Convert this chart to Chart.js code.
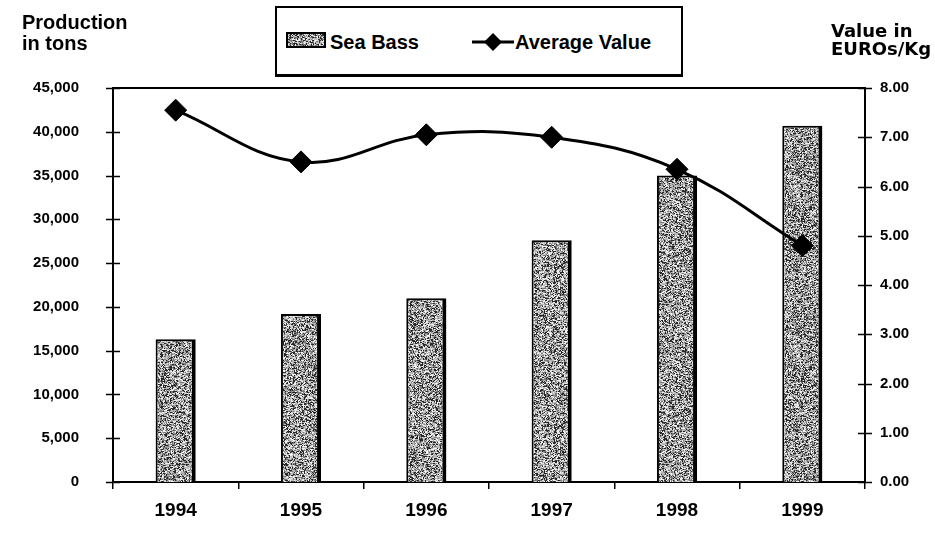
<!DOCTYPE html>
<html><head><meta charset="utf-8">
<script src="https://cdn.jsdelivr.net/npm/chart.js@4"></script>
<style>
html,body{margin:0;padding:0;background:#fff;}
#wrap{position:relative;width:935px;height:533px;overflow:hidden;}
#c{position:absolute;left:0;top:0;}
.t{position:absolute;font-weight:bold;color:#000;white-space:nowrap;}
#lt{left:22px;top:12px;font:bold 20px "Liberation Sans",Arial,sans-serif;line-height:21px;}
#rt{left:831px;top:22px;font:bold 18px "DejaVu Sans",Verdana,sans-serif;line-height:18px;}
#legend{position:absolute;left:275px;top:6px;width:408px;height:71px;border:2px solid #000;border-bottom-width:3px;border-right-width:2px;box-sizing:border-box;background:#fff;}
#legend .lbl{position:absolute;top:22px;font:bold 20px "Liberation Sans",Arial,sans-serif;line-height:24px;}
#sw{position:absolute;left:9px;top:24px;}
#ln{position:absolute;left:195px;top:23px;}
</style></head>
<body>
<div id="wrap">
<canvas id="c" width="935" height="533"></canvas>
<div id="lt" class="t">Production<br>in tons</div>
<div id="rt" class="t">Value in<br>EUROs/Kg</div>
<div id="legend">
  <canvas id="sw" width="40" height="16"></canvas>
  <div class="lbl" style="left:53px">Sea Bass</div>
  <canvas id="ln" width="42" height="22"></canvas>
  <div class="lbl" style="left:238px">Average Value</div>
</div>
</div>
<script>
// ---- data ----
const categories = ['1994', '1995', '1996', '1997', '1998', '1999'];
const seaBassTons = [16300, 19200, 21000, 27600, 35000, 40700];
const avgValueEuroKg = [7.55, 6.50, 7.05, 7.00, 6.35, 4.80];
const productionTicks = [0, 5000, 10000, 15000, 20000, 25000, 30000, 35000, 40000, 45000];
const valueTicks = [0, 1, 2, 3, 4, 5, 6, 7, 8];
const seriesNames = ['Sea Bass', 'Average Value'];

// ---- stipple texture (deterministic) ----
function makeTexture(size) {
  const c = document.createElement('canvas'); c.width = c.height = size;
  const g = c.getContext('2d');
  let s = 987654321;
  const next = () => { s = (Math.imul(s, 1103515245) + 12345) & 0x7fffffff; return s / 0x7fffffff; };
  g.fillStyle = '#b4b4b4'; g.fillRect(0, 0, size, size);
  for (let y = 0; y < size; y++) {
    for (let x = 0; x < size; x++) {
      const r = next();
      let v = null;
      if (r < 0.22) v = 40; else if (r < 0.42) v = 120; else if (r < 0.6) v = 240; else if (r < 0.7) v = 200;
      if (v !== null) {
        const w = next() < 0.4 ? 2 : 1;
        g.fillStyle = 'rgb(' + v + ',' + v + ',' + v + ')';
        g.fillRect(x, y, w, 1);
      }
    }
  }
  return c;
}
const tex = makeTexture(160);
const ctxMain = document.getElementById('c').getContext('2d');
const barPattern = ctxMain.createPattern(tex, 'repeat');

// legend swatches
(function () {
  const sw = document.getElementById('sw').getContext('2d');
  sw.fillStyle = sw.createPattern(tex, 'repeat'); sw.fillRect(0, 0, 40, 16);
  sw.strokeStyle = '#000'; sw.lineWidth = 2; sw.strokeRect(1, 1, 38, 14);
  const ln = document.getElementById('ln').getContext('2d');
  ln.strokeStyle = '#000'; ln.lineWidth = 3;
  ln.beginPath(); ln.moveTo(0, 11); ln.lineTo(42, 11); ln.stroke();
  ln.fillStyle = '#000'; ln.beginPath();
  ln.moveTo(21, 2); ln.lineTo(30, 11); ln.lineTo(21, 20); ln.lineTo(12, 11); ln.closePath(); ln.fill();
})();

const FONT = '"Liberation Sans", Arial, sans-serif';

const framePlugin = {
  id: 'frame',
  afterDraw(chart) {
    const { ctx, chartArea: a, scales } = chart;
    ctx.save();
    ctx.strokeStyle = '#000';
    ctx.lineWidth = 2;
    ctx.beginPath(); ctx.moveTo(a.left - 1, a.top); ctx.lineTo(a.right + 1, a.top); ctx.stroke();
    ctx.lineWidth = 1.5;
    ctx.beginPath();
    scales.y.ticks.forEach(t => {
      const py = Math.round(scales.y.getPixelForValue(t.value)) + 0.5;
      ctx.moveTo(a.left - 7, py); ctx.lineTo(a.left + 7, py);
    });
    scales.y1.ticks.forEach(t => {
      const py = Math.round(scales.y1.getPixelForValue(t.value)) + 0.5;
      ctx.moveTo(a.right - 7, py); ctx.lineTo(a.right + 7, py);
    });
    ctx.stroke();
    ctx.restore();
  }
};

new Chart(ctxMain, {
  data: {
    labels: categories,
    datasets: [
      {
        type: 'line', label: seriesNames[1], data: avgValueEuroKg, yAxisID: 'y1', order: 0,
        borderColor: '#000', borderWidth: 3, tension: 0.4, fill: false,
        pointStyle: 'rectRot', pointRadius: 11, pointBackgroundColor: '#000', pointBorderColor: '#000', pointBorderWidth: 1
      },
      {
        type: 'bar', label: seriesNames[0], data: seaBassTons, yAxisID: 'y', order: 1,
        backgroundColor: barPattern, borderColor: '#000',
        borderWidth: { left: 2, top: 2, right: 4, bottom: 0 }, borderSkipped: false,
        barPercentage: 0.32, categoryPercentage: 1
      }
    ]
  },
  options: {
    responsive: false, animation: false, devicePixelRatio: 1,
    layout: { padding: { top: 88, left: 0, right: 0, bottom: 0 } },
    plugins: { legend: { display: false }, tooltip: { enabled: false }, title: { display: false } },
    scales: {
      x: {
        afterFit(s) { s.height = 51; },
        grid: { offset: true, drawOnChartArea: false, drawTicks: true, tickLength: 7, color: '#000', lineWidth: 1.5 },
        border: { display: true, color: '#000', width: 2 },
        ticks: { color: '#000', padding: 10, font: { family: FONT, size: 19, weight: 'bold' } }
      },
      y: {
        position: 'left', min: 0, max: 45000,
        afterBuildTicks(s) { s.ticks = productionTicks.map(v => ({ value: v })); },
        afterFit(s) { s.width = 113; },
        grid: { display: false },
        border: { display: true, color: '#000', width: 2 },
        ticks: {
          color: '#000', padding: 26, font: { family: FONT, size: 15, weight: 'bold' },
          callback: v => v.toLocaleString('en-US')
        }
      },
      y1: {
        position: 'right', min: 0, max: 8,
        afterBuildTicks(s) { s.ticks = valueTicks.map(v => ({ value: v })); },
        afterFit(s) { s.width = 70; },
        grid: { display: false },
        border: { display: true, color: '#000', width: 2 },
        ticks: {
          color: '#000', padding: 7, font: { family: FONT, size: 15, weight: 'bold' },
          callback: v => Number(v).toFixed(2)
        }
      }
    }
  },
  plugins: [framePlugin]
});
</script>
</body></html>
